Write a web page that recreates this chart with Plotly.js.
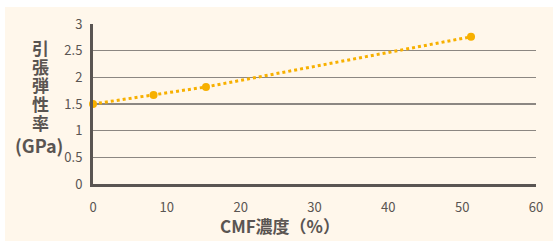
<!DOCTYPE html>
<html><head><meta charset="utf-8">
<script src="https://cdn.plot.ly/plotly-3.0.1.min.js"></script>
<style>
html,body{margin:0;padding:0;background:#ffffff;}
#chart{position:absolute;left:5px;top:7px;width:548px;height:234px;}
</style></head>
<body><div id="chart"></div>
<script>
const cmf = [0, 8.2, 15.3, 51.2];
const modulus = [1.5, 1.67, 1.82, 2.76];
const xTicks = [0, 10, 20, 30, 40, 50, 60];
const yTicks = [0, 0.5, 1, 1.5, 2, 2.5, 3];
const yTickText = ['0', '0.5', '1', '1.5', '2', '2.5', '3'];
const yTitleChars = ['引', '張', '弾', '性', '率'];
const yTitleUnit = '(GPa)';
const xTitle = 'CMF濃度（%）';

const font = 'Noto Sans CJK JP, Noto Sans, sans-serif';
const grey = '#5a5552';
const orange = '#f7b000';

const charY = [0.855, 0.737, 0.62, 0.503, 0.386];
const annotations = yTitleChars.map((c, i) => ({
  xref: 'paper', yref: 'paper', x: -0.118, y: charY[i], xanchor: 'center', yanchor: 'middle',
  text: '<b>' + c + '</b>', showarrow: false,
  font: {size: 17, color: grey, family: font}
}));
annotations.push({
  xref: 'paper', yref: 'paper', x: -0.123, y: 0.246, xanchor: 'center', yanchor: 'middle',
  text: '<b>' + yTitleUnit + '</b>', showarrow: false,
  font: {size: 18, color: grey, family: font}
});
annotations.push({
  xref: 'paper', yref: 'paper', x: 0.422, y: -0.259, xanchor: 'center', yanchor: 'middle',
  text: '<b>' + xTitle + '</b>', showarrow: false,
  font: {size: 17, color: grey, family: font}
});

Plotly.newPlot('chart', [{
  x: cmf, y: modulus, type: 'scatter', mode: 'lines+markers',
  line: {color: orange, width: 3, dash: 'dot'},
  marker: {color: orange, size: 8},
  cliponaxis: false
}], {
  width: 548, height: 234,
  paper_bgcolor: '#fff7eb', plot_bgcolor: '#fff7eb',
  margin: {l: 87.5, r: 16.5, t: 17, b: 56.5},
  showlegend: false,
  font: {family: font, color: grey, size: 13},
  xaxis: {
    range: [0, 60], tickvals: xTicks, showgrid: false, zeroline: false,
    showline: true, linecolor: grey, linewidth: 3,
    ticks: 'outside', ticklen: 9, tickcolor: 'rgba(0,0,0,0)',
    tickfont: {size: 13, color: grey}
  },
  yaxis: {
    range: [0, 3], tickvals: yTicks, ticktext: yTickText,
    showgrid: true, gridcolor: '#8c8782', gridwidth: 1.2, zeroline: false,
    showline: true, linecolor: grey, linewidth: 3,
    ticks: '', tickfont: {size: 13, color: grey}, ticklabelstandoff: 5
  },
  annotations: annotations
}, {displayModeBar: false, staticPlot: true});
</script></body></html>
